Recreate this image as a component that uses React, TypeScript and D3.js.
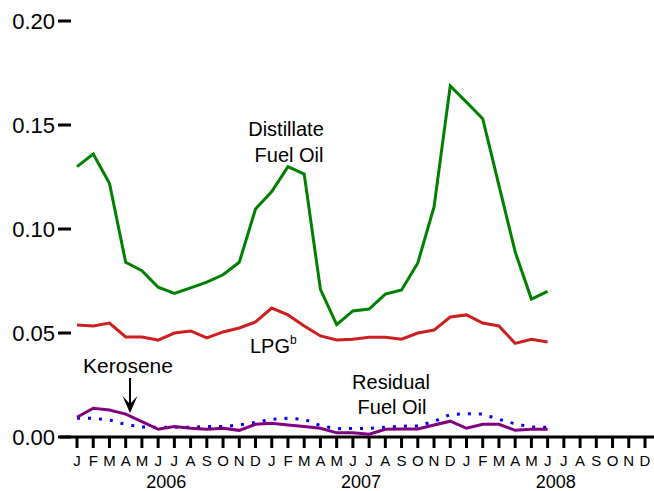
import React, { useEffect, useRef } from "react";
import * as d3 from "d3";

// months Jan 2006 .. Dec 2008 on the axis, data runs Jan 2006 .. Jun 2008
const monthLetters = ["J", "F", "M", "A", "M", "J", "J", "A", "S", "O", "N", "D"];
const years = ["2006", "2007", "2008"];
const yTicks = [0, 0.05, 0.1, 0.15, 0.2];

const distillate = [
  0.13, 0.136, 0.122, 0.084, 0.08, 0.072, 0.069, 0.0717, 0.0745, 0.078, 0.084, 0.1096,
  0.118, 0.13, 0.1264, 0.071, 0.054, 0.0606, 0.0615, 0.0687, 0.0707, 0.0837, 0.1106, 0.1688,
  0.161, 0.153, 0.121, 0.089, 0.0663, 0.07,
];
const lpg = [
  0.0538, 0.0534, 0.0548, 0.0481, 0.0481, 0.0466, 0.05, 0.051, 0.0476, 0.0505, 0.0524, 0.0553,
  0.062, 0.0587, 0.0534, 0.0486, 0.0466, 0.047, 0.048, 0.048, 0.047, 0.05, 0.0514, 0.0577,
  0.0587, 0.0548, 0.0534, 0.045, 0.047, 0.0457,
];
const kerosene = [
  0.0095, 0.0138, 0.013, 0.011, 0.0074, 0.0037, 0.005, 0.0042, 0.0037, 0.0042, 0.0032, 0.0061,
  0.0066, 0.0058, 0.005, 0.0042, 0.002, 0.002, 0.0013, 0.0037, 0.0039, 0.0039, 0.0058, 0.0076,
  0.0042, 0.0061, 0.0061, 0.0032, 0.0037, 0.0037,
];
const residual = [
  0.009, 0.009, 0.0082, 0.006, 0.0048, 0.0047, 0.0047, 0.0047, 0.005, 0.005, 0.0058, 0.007,
  0.0085, 0.009, 0.0085, 0.0055, 0.004, 0.0041, 0.0041, 0.0047, 0.0052, 0.0053, 0.0075, 0.0108,
  0.0112, 0.011, 0.0085, 0.0063, 0.0048, 0.0047,
];

const FONT = "'Liberation Sans', Arial, sans-serif";

const App = () => {
  const ref = useRef<SVGSVGElement | null>(null);

  useEffect(() => {
    if (!ref.current) return;
    const svg = d3.select(ref.current);
    svg.selectAll("*").remove();

    const width = 654;
    const height = 491;
    const nMonths = monthLetters.length * years.length;

    const x = d3.scaleLinear().domain([0, nMonths - 1]).range([77, 645]);
    const y = d3.scaleLinear().domain([0, 0.2]).range([437, 21]);

    svg.attr("width", width).attr("height", height);

    // y axis: just tick dashes + labels
    const yg = svg.append("g");
    yTicks.forEach((t) => {
      yg.append("line")
        .attr("x1", 58)
        .attr("x2", 71)
        .attr("y1", y(t))
        .attr("y2", y(t))
        .attr("stroke", "black")
        .attr("stroke-width", 3);
      yg.append("text")
        .attr("x", 55)
        .attr("y", y(t))
        .attr("dy", "0.36em")
        .attr("text-anchor", "end")
        .attr("font-family", FONT)
        .attr("font-size", 22)
        .text(t.toFixed(2));
    });

    // x axis
    const xg = svg.append("g");
    xg.append("line")
      .attr("x1", 60)
      .attr("x2", width)
      .attr("y1", y(0))
      .attr("y2", y(0))
      .attr("stroke", "black")
      .attr("stroke-width", 3);
    d3.range(nMonths).forEach((i) => {
      xg.append("line")
        .attr("x1", x(i))
        .attr("x2", x(i))
        .attr("y1", y(0))
        .attr("y2", y(0) + 11)
        .attr("stroke", "black")
        .attr("stroke-width", 3);
      xg.append("text")
        .attr("x", x(i))
        .attr("y", 466)
        .attr("text-anchor", "middle")
        .attr("font-family", FONT)
        .attr("font-size", 15)
        .text(monthLetters[i % 12]);
    });
    years.forEach((yr, k) => {
      xg.append("text")
        .attr("x", x(k * 12 + 5.5))
        .attr("y", 488)
        .attr("text-anchor", "middle")
        .attr("font-family", FONT)
        .attr("font-size", 18)
        .text(yr);
    });

    const line = d3
      .line<number>()
      .x((_, i) => x(i))
      .y((d) => y(d));

    const series = [
      { data: residual, color: "#0000ff", dash: "3,8" },
      { data: kerosene, color: "#800080", dash: null },
      { data: lpg, color: "#cc1f1f", dash: null },
      { data: distillate, color: "#008000", dash: null },
    ];
    series.forEach((s) => {
      svg
        .append("path")
        .datum(s.data)
        .attr("d", line)
        .attr("fill", "none")
        .attr("stroke", s.color)
        .attr("stroke-width", 3)
        .attr("stroke-linejoin", "miter")
        .attr("stroke-dasharray", s.dash);
    });

    // labels
    const label = (tx: number, ty: number, txt: string, anchor = "middle", size = 20) =>
      svg
        .append("text")
        .attr("x", tx)
        .attr("y", ty)
        .attr("text-anchor", anchor)
        .attr("font-family", FONT)
        .attr("font-size", size)
        .text(txt);

    label(286, 136, "Distillate");
    label(289, 162, "Fuel Oil");
    label(391, 389, "Residual");
    label(392, 414, "Fuel Oil");
    label(128, 373, "Kerosene", "middle", 21);
    const lp = label(250, 353, "LPG", "start");
    lp.append("tspan").attr("font-size", 12).attr("dy", -9).text("b");

    // kerosene arrow
    svg
      .append("line")
      .attr("x1", 130)
      .attr("x2", 130)
      .attr("y1", 378)
      .attr("y2", 408)
      .attr("stroke", "black")
      .attr("stroke-width", 2);
    svg
      .append("path")
      .attr("d", "M130,413 L122.5,396 L130,404 L137.5,396 Z")
      .attr("fill", "black");
  }, []);

  return (
    <svg
      ref={ref}
      style={{ position: "absolute", left: 0, top: 0, background: "white" }}
    ></svg>
  );
};

export default App;
